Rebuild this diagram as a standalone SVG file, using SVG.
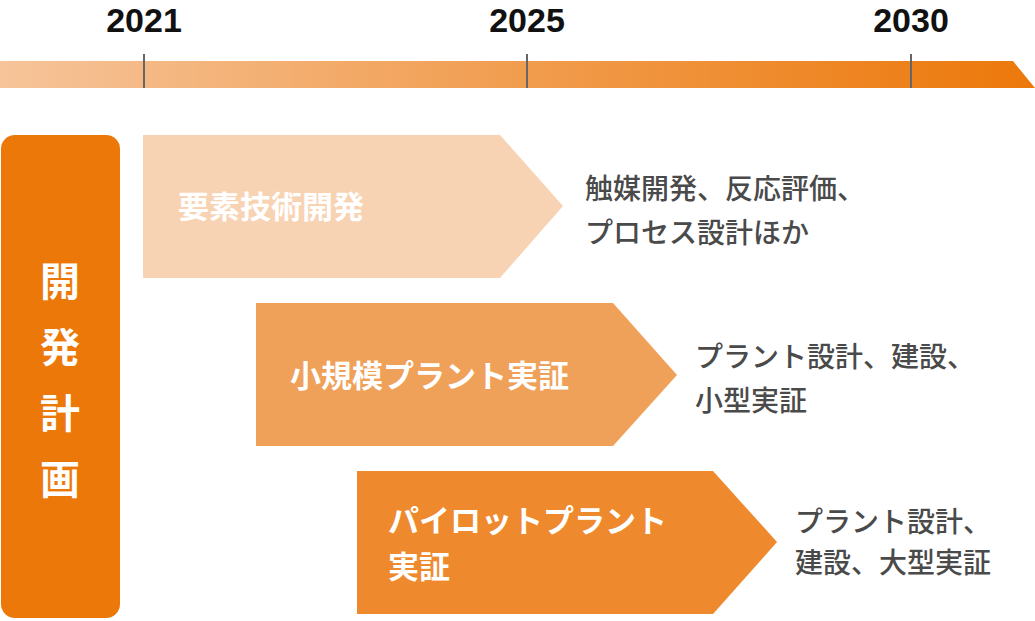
<svg xmlns="http://www.w3.org/2000/svg" width="1035" height="621" viewBox="0 0 1035 621">
<defs>
<linearGradient id="g" x1="0" x2="1"><stop offset="0" stop-color="#f6c49a"/><stop offset="0.5" stop-color="#f19d4f"/><stop offset="1" stop-color="#ec780a"/></linearGradient>
<style>
.y{font:bold 34px "Liberation Sans",Arial,sans-serif;fill:#111;text-anchor:middle}
.w{font:bold 31px "Noto Sans CJK JP",sans-serif;fill:#fff}
.d{font:500 28px "Noto Sans CJK JP",sans-serif;fill:#4a4a4a}
.t{stroke:#666;stroke-width:2}
</style>
</defs>
<g id="timeline">
<path d="M0 61 H1013 L1035 88 H0 Z" fill="url(#g)"/>
<line class="t" x1="144" y1="54" x2="144" y2="88"/>
<line class="t" x1="527" y1="54" x2="527" y2="88"/>
<line class="t" x1="911" y1="54" x2="911" y2="88"/>
<text class="y" x="144" y="32">2021</text>
<text class="y" x="527" y="32">2025</text>
<text class="y" x="911" y="32">2030</text>
</g>
<g id="plan">
<rect x="1" y="135" width="119" height="483" rx="14" fill="#ec780a"/>
<text class="w" font-size="40" text-anchor="middle" x="60" style="font-size:40px"><tspan x="60" y="296">開</tspan><tspan x="60" y="362">発</tspan><tspan x="60" y="428">計</tspan><tspan x="60" y="494">画</tspan></text>
</g>
<g id="n1">
<path d="M143 135 H500 L563 206 L500 278 H143 Z" fill="#f8d3b3"/>
<text class="w" x="178" y="218">要素技術開発</text>
<text class="d"><tspan x="585" y="199">触媒開発、反応評価、</tspan><tspan x="585" y="243">プロセス設計ほか</tspan></text>
</g>
<g id="n2">
<path d="M256 303 H613 L677 375 L613 446 H256 Z" fill="#f0a159"/>
<text class="w" x="290" y="387">小規模プラント実証</text>
<text class="d"><tspan x="695" y="367">プラント設計、建設、</tspan><tspan x="695" y="411">小型実証</tspan></text>
</g>
<g id="n3">
<path d="M357 471 H713 L777 542 L713 614 H357 Z" fill="#ee8a2d"/>
<text class="w"><tspan x="388" y="532">パイロットプラント</tspan><tspan x="388" y="578">実証</tspan></text>
<text class="d"><tspan x="795" y="532">プラント設計、</tspan><tspan x="795" y="573">建設、大型実証</tspan></text>
</g>
<g id="connectors"/>
</svg>
